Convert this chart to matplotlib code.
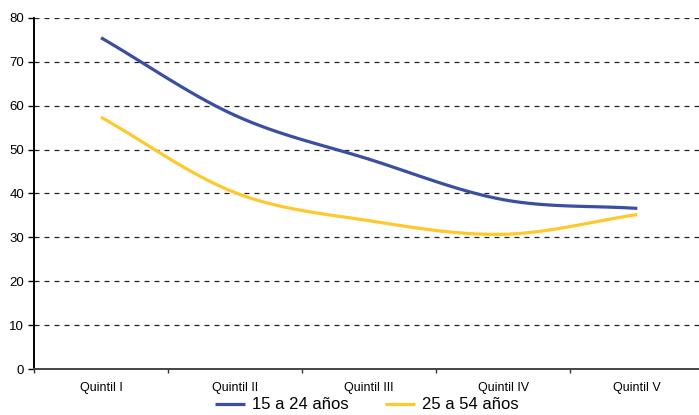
import numpy as np
from matplotlib import pyplot as plt

categories = ["Quintil I", "Quintil II", "Quintil III", "Quintil IV", "Quintil V"]
young = [75.5, 57.8, 47.8, 38.6, 36.6]    # 15 a 24 años
adults = [57.4, 40.2, 33.8, 30.7, 35.2]   # 25 a 54 años
yticks = [0, 10, 20, 30, 40, 50, 60, 70, 80]


def smooth(x, y, n=30):
    # catmull-rom style smoothing like spreadsheet "smoothed line"
    x = np.asarray(x, float)
    y = np.asarray(y, float)
    px = np.concatenate([[2 * x[0] - x[1]], x, [2 * x[-1] - x[-2]]])
    py = np.concatenate([[2 * y[0] - y[1]], y, [2 * y[-1] - y[-2]]])
    xs, ys = [], []
    t = np.linspace(0, 1, n)
    for i in range(1, len(px) - 2):
        p0, p1, p2, p3 = py[i - 1], py[i], py[i + 1], py[i + 2]
        q0, q1, q2, q3 = px[i - 1], px[i], px[i + 1], px[i + 2]
        ys.append(0.5 * (2 * p1 + (-p0 + p2) * t + (2 * p0 - 5 * p1 + 4 * p2 - p3) * t**2
                         + (-p0 + 3 * p1 - 3 * p2 + p3) * t**3))
        xs.append(0.5 * (2 * q1 + (-q0 + q2) * t + (2 * q0 - 5 * q1 + 4 * q2 - q3) * t**2
                         + (-q0 + 3 * q1 - 3 * q2 + q3) * t**3))
    return np.concatenate(xs), np.concatenate(ys)


plt.rcParams['font.family'] = ['Liberation Sans', 'DejaVu Sans']

fig = plt.figure(figsize=(6.99, 4.15), dpi=100)
ax = fig.add_axes([34 / 699, 46 / 415, 665 / 699, 351 / 415])

pos = np.arange(len(categories))
bx, by = smooth(pos, young)
ax.plot(bx, by, color='#3A4FA0', lw=2.3, label='15 a 24 años', solid_capstyle='butt')
yx, yy = smooth(pos, adults)
ax.plot(yx, yy, color='#FFC82C', lw=2.3, label='25 a 54 años', solid_capstyle='butt')

ax.set_ylim(0, 80)
ax.set_xlim(-0.5, 4.46)
ax.set_yticks(yticks)
for v in yticks[1:]:
    ax.axhline(v, color='#222222', lw=0.9, ls=(0, (4, 4)), zorder=0)

ax.set_xticks(pos)
ax.set_xticklabels(categories, fontsize=9)
ax.set_xticks(np.arange(len(categories)) - 0.5, minor=True)
ax.tick_params(axis='x', which='major', length=0, pad=9)
ax.tick_params(axis='x', which='minor', length=3, width=1, color='#333333')
ax.tick_params(axis='y', length=4, width=1, labelsize=9.5, pad=3)

for s in ['top', 'right']:
    ax.spines[s].set_visible(False)
ax.spines['left'].set_linewidth(1.4)
ax.spines['bottom'].set_linewidth(1.4)
ax.spines['bottom'].set_color('#444444')

fig.legend(loc='lower center', bbox_to_anchor=(0.525, -0.03), ncol=2, frameon=False,
           fontsize=12, handlelength=1.8, handletextpad=0.4, columnspacing=2.2)

fig.savefig('out.png', dpi=100)
